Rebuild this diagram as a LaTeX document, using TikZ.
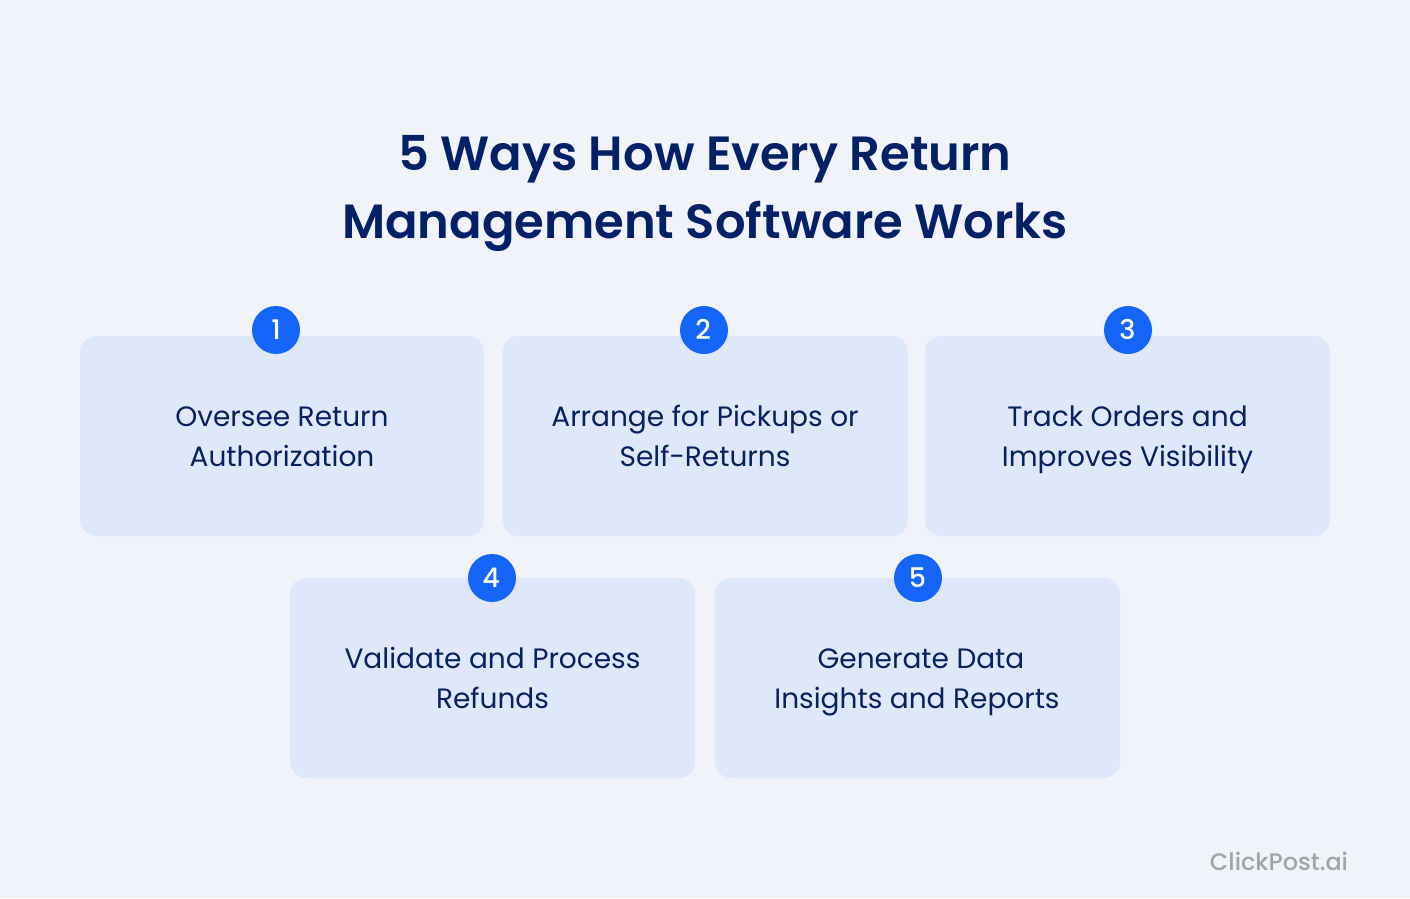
\documentclass[tikz,border=0pt]{standalone}
\usepackage{fontspec}
\setmainfont{Poppins}
\newfontfamily\semifont{Poppins SemiBold}
\newfontfamily\medfont{Poppins Medium}
\definecolor{bgc}{HTML}{F0F4FA}
\definecolor{cardc}{HTML}{DEE8FA}
\definecolor{navy}{HTML}{012066}
\definecolor{cardink}{HTML}{07205F}
\definecolor{blt}{HTML}{1565FA}
\definecolor{wm}{HTML}{A0A4A8}
\tikzset{
 x=1pt,y=-1pt,
 card/.style={fill=cardc,rounded corners=16pt,draw=none},
 cardtext/.style={text=cardink,font=\fontsize{28}{40}\selectfont,align=center},
 badge/.style={circle,fill=blt,minimum size=48pt,inner sep=0pt,text=white},
 digit/.style={text=white,font=\medfont\fontsize{27}{28}\selectfont},
 titletext/.style={text=navy,font=\semifont\fontsize{48}{68}\selectfont,align=center},
}
\begin{document}
\begin{tikzpicture}
\path[use as bounding box,fill=bgc] (0,0) rectangle (1410,898);
\node[titletext] (title) at (705,190.4) {\strut 5 Ways How Every Return\\\strut Management Software Works};
\draw[card] (80,336) rectangle (484,536);
\draw[card] (502.5,336) rectangle (908,536);
\draw[card] (925,336) rectangle (1330,536);
\draw[card] (290,578) rectangle (695,778);
\draw[card] (715,578) rectangle (1120,778);
\node[cardtext] (t1) at (282,438) {\strut Oversee Return\\\strut Authorization};
\node[cardtext] (t2) at (705,438) {\strut Arrange for Pickups or\\\strut Self-Returns};
\node[cardtext] (t3) at (1127.5,438) {\strut Track Orders and\\\strut Improves Visibility};
\node[cardtext] (t4) at (492.5,680) {\strut Validate and Process\\\strut Refunds};
\node[cardtext] (t5) at (917,680) {\strut\hspace*{8pt}Generate Data\\\strut Insights and Reports};
\node[badge] (b1) at (276,330) {};
\node[badge] (b2) at (704,330) {};
\node[badge] (b3) at (1128,330) {};
\node[badge] (b4) at (492,578) {};
\node[badge] (b5) at (918,578) {};
\node[digit] (d1) at (276,329.5) {1};
\node[digit] (d2) at (703.2,329.5) {2};
\node[digit] (d3) at (1127.5,329.5) {3};
\node[digit] (d4) at (491,577.5) {4};
\node[digit] (d5) at (917.5,577.5) {5};
\node[text=wm,font=\medfont\fontsize{23.9}{24}\selectfont] (wm) at (1279,861) {ClickPost.ai};
\end{tikzpicture}
\end{document}
